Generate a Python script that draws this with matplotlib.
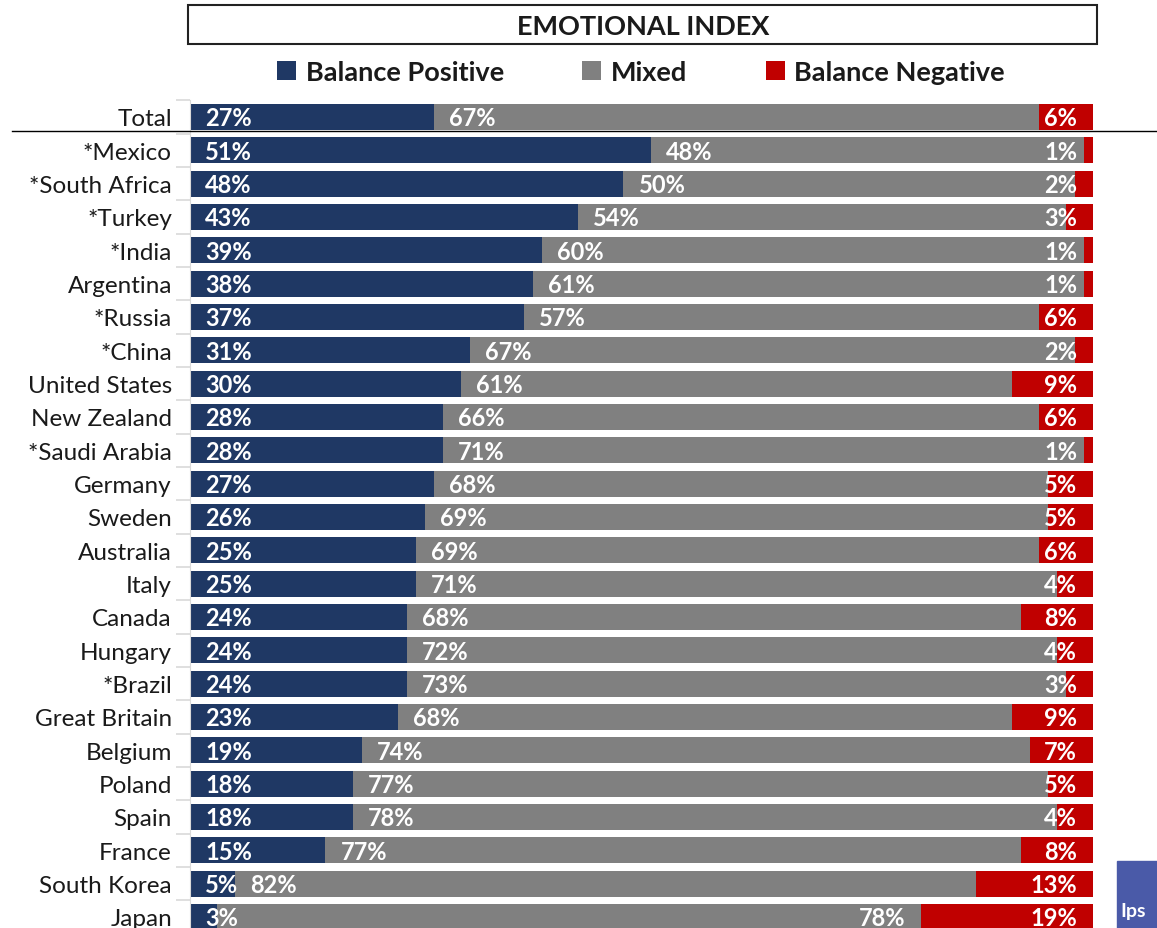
import matplotlib.pyplot as plt
from matplotlib.patches import Rectangle

countries = ["Total", "*Mexico", "*South Africa", "*Turkey", "*India", "Argentina",
             "*Russia", "*China", "United States", "New Zealand", "*Saudi Arabia",
             "Germany", "Sweden", "Australia", "Italy", "Canada", "Hungary", "*Brazil",
             "Great Britain", "Belgium", "Poland", "Spain", "France", "South Korea", "Japan"]
positive = [27, 51, 48, 43, 39, 38, 37, 31, 30, 28, 28, 27, 26, 25, 25, 24, 24, 24,
            23, 19, 18, 18, 15, 5, 3]
mixed = [67, 48, 50, 54, 60, 61, 57, 67, 61, 66, 71, 68, 69, 69, 71, 68, 72, 73,
         68, 74, 77, 78, 77, 82, 78]
negative = [6, 1, 2, 3, 1, 1, 6, 2, 9, 6, 1, 5, 5, 6, 4, 8, 4, 3, 9, 7, 5, 4, 8, 13, 19]
mixed_label_right = ["Japan"]

navy = "#1f3864"
grey = "#808080"
red = "#c00000"

plt.rcParams["font.family"] = ["Lato", "DejaVu Sans"]

W, H = 1157, 929
fig = plt.figure(figsize=(W / 100, H / 100), dpi=100)

# axes: x from 190 to 1093 px, rows 33.33 px apart, Total centred at y=118
pitch = 800 / 24
top = 118 - pitch / 2
bottom = 918 + pitch / 2
ax = fig.add_axes([190 / W, 1 - bottom / H, (1093 - 190) / W, (bottom - top) / H])

y = list(range(len(countries)))
left_mixed = positive
left_neg = [p + m for p, m in zip(positive, mixed)]
hb = 0.78
b1 = ax.barh(y, positive, height=hb, color=navy, label="Balance Positive")
b2 = ax.barh(y, mixed, left=left_mixed, height=hb, color=grey, label="Mixed")
b3 = ax.barh(y, negative, left=left_neg, height=hb, color=red, label="Balance Negative")

lab = dict(color="white", fontsize=17, fontweight="bold", va="center",
           textcoords="offset pixels")
for i, c in enumerate(countries):
    ax.annotate(f"{positive[i]}%", (0, i), xytext=(15, -1), ha="left", **lab)
    if c in mixed_label_right:
        ax.annotate(f"{mixed[i]}%", (left_neg[i], i), xytext=(-16, -1), ha="right", **lab)
    else:
        ax.annotate(f"{mixed[i]}%", (left_mixed[i], i), xytext=(15, -1), ha="left", **lab)
    ax.annotate(f"{negative[i]}%", (100, i), xytext=(-16, -1), ha="right", **lab)

ax.set_xlim(0, 100)
ax.set_ylim(len(countries) - 0.5, -0.5)
ax.set_yticks(y)
ax.set_yticklabels(countries, fontsize=17.5, color="#1a1a1a")
ax.set_yticks([i + 0.5 for i in range(-1, len(countries))], minor=True)
ax.tick_params(axis="y", which="major", length=0, pad=13)
ax.tick_params(axis="y", which="minor", length=10, color="#d9d9d9", width=1.2)
ax.set_xticks([])
for s in ["top", "right", "bottom"]:
    ax.spines[s].set_visible(False)
ax.spines["left"].set_color("#d9d9d9")

# separator under Total
fig.add_artist(plt.Line2D([12 / W, 1], [1 - 132 / H, 1 - 132 / H], color="black", lw=1))

# title box
fig.add_artist(Rectangle((188 / W, 1 - 45 / H), (1097 - 188) / W, 39 / H,
                         fill=False, edgecolor="#222222", lw=1.5))
fig.text(643 / W, 1 - 27 / H, "EMOTIONAL INDEX", ha="center", va="center",
         fontsize=19.5, fontweight="bold", color="#1a1a1a")

leg = fig.legend(handles=[b1, b2, b3], loc="center", bbox_to_anchor=(641 / W, 1 - 73 / H),
                 ncol=3, frameon=False, handlelength=0.7, handleheight=0.7,
                 handletextpad=0.35, columnspacing=2.9,
                 prop={"size": 19.5, "weight": "bold"})
for t in leg.get_texts():
    t.set_color("#1a1a1a")

# logo corner
fig.add_artist(Rectangle((1117 / W, 0), 40 / W, 67 / H, color="#4a5aa8"))
fig.text(1120 / W, 1 - 912 / H, "Ips", color="white", fontsize=14, fontweight="bold",
         va="center", ha="left")

fig.savefig("out.png", dpi=100)
